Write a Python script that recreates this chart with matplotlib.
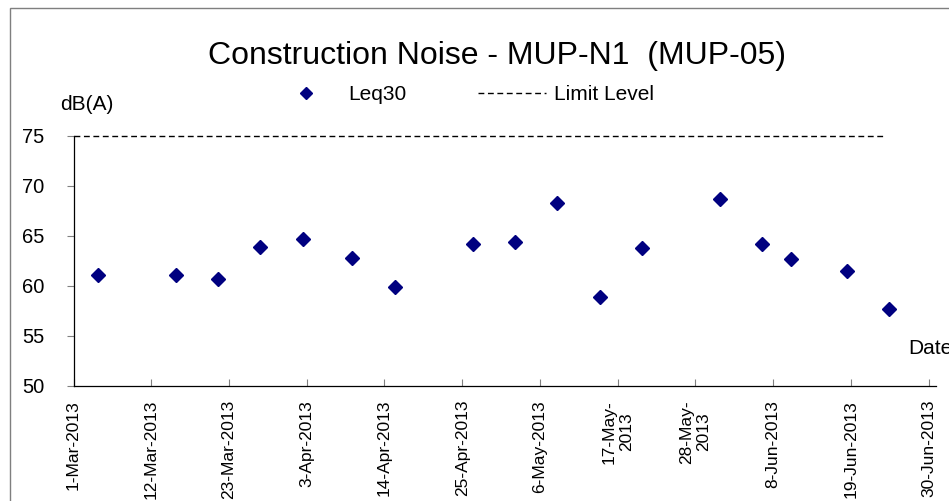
import numpy as np
import pandas as pd
import matplotlib
matplotlib.use("Agg")
from matplotlib import pyplot as plt
import matplotlib.dates as mdates
from matplotlib.patches import Rectangle

plt.rcParams['font.family'] = ['Liberation Sans', 'DejaVu Sans']

# readings (Leq30, dB(A)) taken late morning
sample_dates = ["2013-03-04 11:00", "2013-03-15 11:00", "2013-03-21 11:00",
                "2013-03-27 11:00", "2013-04-02 11:00", "2013-04-09 11:00",
                "2013-04-15 11:00", "2013-04-26 11:00", "2013-05-02 11:00",
                "2013-05-08 11:00", "2013-05-14 11:00", "2013-05-20 11:00",
                "2013-05-31 11:00", "2013-06-06 11:00", "2013-06-10 11:00",
                "2013-06-18 11:00", "2013-06-24 11:00"]
leq30 = [61.1, 61.1, 60.7, 63.9, 64.7, 62.8, 59.9, 64.2, 64.4,
         68.3, 58.9, 63.8, 68.7, 64.2, 62.7, 61.5, 57.7]

limit_dates = ["2013-03-01", "2013-06-24"]
limit_level = [75, 75]

tick_dates = ["2013-03-01", "2013-03-12", "2013-03-23", "2013-04-03",
              "2013-04-14", "2013-04-25", "2013-05-06", "2013-05-17",
              "2013-05-28", "2013-06-08", "2013-06-19", "2013-06-30"]
tick_labels = ["1-Mar-2013", "12-Mar-2013", "23-Mar-2013", "3-Apr-2013",
               "14-Apr-2013", "25-Apr-2013", "6-May-2013", "17-May-\n2013",
               "28-May-\n2013", "8-Jun-2013", "19-Jun-2013", "30-Jun-2013"]
y_ticks = [50, 55, 60, 65, 70, 75]

x = pd.to_datetime(sample_dates)
xl = pd.to_datetime(limit_dates)
xt = pd.to_datetime(tick_dates)

fig = plt.figure(figsize=(9.49, 5.01), dpi=100)
ax = fig.add_axes([73.5 / 949, 1 - 385.5 / 501, (935.7 - 73.5) / 949, 250 / 501])

pts, = ax.plot(x, leq30, linestyle='none', marker='D', markersize=7.5,
               color='#000080', label='Leq30', clip_on=False)
lim, = ax.plot(xl, limit_level, color='black', lw=1.0,
               linestyle=(0, (4.2, 2.6)), label='Limit Level', clip_on=False)

ax.set_xlim(pd.Timestamp("2013-03-01"), pd.Timestamp("2013-07-01"))
ax.set_ylim(50, 75)

ax.set_xticks(xt)
ax.set_xticklabels(tick_labels, rotation=90, ha='center', va='top',
                   multialignment='center', fontsize=12.5)
ax.set_yticks(y_ticks)
ax.set_yticklabels([str(v) for v in y_ticks], fontsize=14.5)

ax.tick_params(axis='x', direction='in', length=5, width=0.8, color='#808080', pad=10.4)
ax.tick_params(axis='y', direction='out', length=5, width=0.8, color='#808080', pad=16)

for side in ['top', 'right']:
    ax.spines[side].set_visible(False)
for side in ['left', 'bottom']:
    ax.spines[side].set_linewidth(0.9)
    ax.spines[side].set_color('black')

fig.text(496.5 / 949, 1 - 56 / 501, "Construction Noise - MUP-N1  (MUP-05)",
         fontsize=23, ha='center', va='center')
fig.text(60 / 949, 1 - 105 / 501, "dB(A)", fontsize=15, ha='left', va='center')
fig.text(908 / 949, 1 - 348 / 501, "Date", fontsize=15, ha='left', va='center')

fig.legend(handles=[pts, lim], loc='center left',
           bbox_to_anchor=(262 / 949, 1 - 95 / 501), ncol=2, frameon=False,
           fontsize=15, borderpad=0, handlelength=3.27, handletextpad=0.38,
           columnspacing=3.4, markerscale=0.85)

# outer chart border (cropped on the right and bottom)
fig.patches.append(Rectangle((10 / 949, -0.1), 1.2, 1 - 8 / 501 + 0.1,
                             transform=fig.transFigure, fill=False,
                             edgecolor='#7f7f7f', lw=1.0))

fig.savefig("out.png", dpi=100)
